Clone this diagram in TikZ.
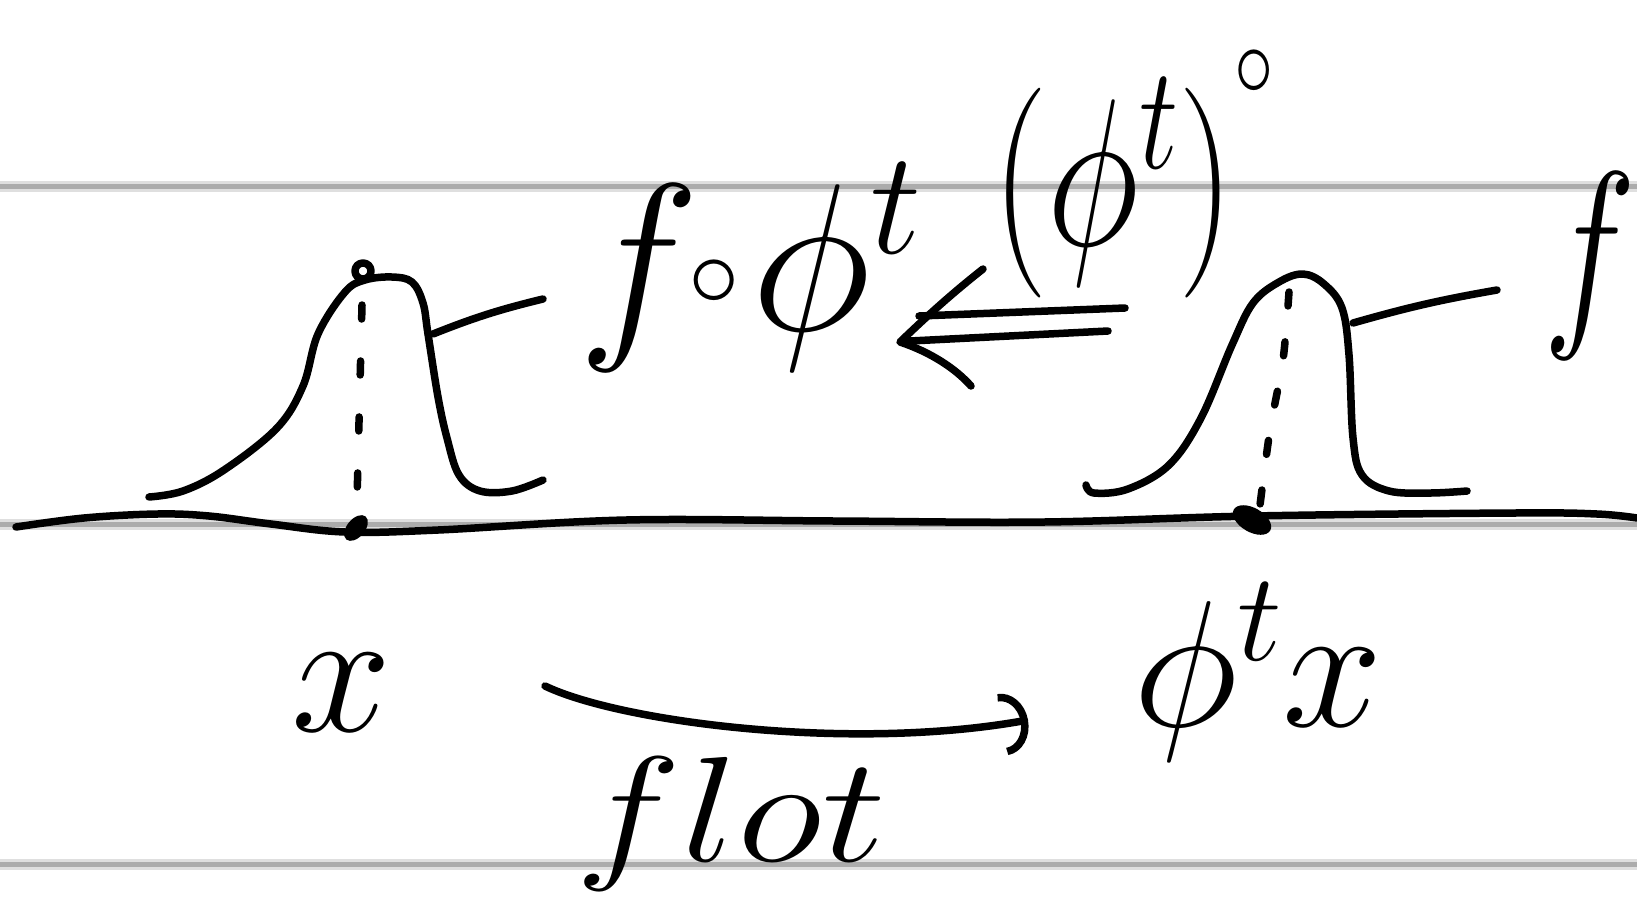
\documentclass[tikz,border=0pt]{standalone}
\usepackage{fix-cm}
\usepackage{graphicx}
\usetikzlibrary{arrows.meta}
\begin{document}
\begin{tikzpicture}[x=1pt,y=-1pt,
  ink/.style={line width=7.5pt, line cap=round, line join=round, black},
  rule/.style={line width=5pt, gray!65},
  ruleglow/.style={line width=11pt, gray!25},
  big/.style={inner sep=0pt, anchor=base, font=\fontsize{210}{250}\selectfont},
  mid/.style={inner sep=0pt, anchor=base, font=\fontsize{180}{216}\selectfont},
  small/.style={inner sep=0pt, anchor=base, font=\fontsize{150}{180}\selectfont},
  dots/.style={ink, dash pattern=on 14pt off 42pt}]
\useasboundingbox (0,0) rectangle (1637,911);
\fill[white] (0,0) rectangle (1637,911);

% ruled notebook lines
\foreach \y in {186,524,864} {
  \draw[ruleglow] (0,\y) -- (1637,\y);
  \draw[rule] (0,\y) -- (1637,\y);
}

% the real line (state space)
\draw[ink] plot[smooth, tension=0.6] coordinates {(16,527) (84,518) (157,514) (209,516) (271,524) (345,532) (438,530) (626,520) (835,521) (1044,522) (1253,516) (1514,513) (1597,514) (1637,518)};

% left bump: graph of f o phi^t
\draw[ink] plot[smooth, tension=0.6] coordinates {(149,497) (183,491) (224,470) (277,428) (303,386) (318,334) (345,292) (365,280) (392,277) (412,282) (423,303) (428,334) (438,397) (447,438) (459,475) (480,491) (512,491) (543,480)};
\draw[ink] (363,271) circle (8pt);
\draw[dots] (362,305) -- (357,500);
\fill[rotate around={50:(356,528)}] (356,528) ellipse (15pt and 9pt);

% right bump: graph of f
\draw[ink] plot[smooth, tension=0.6] coordinates {(1086,485) (1094,493) (1128,489) (1169,465) (1201,418) (1232,345) (1253,303) (1279,282) (1303,274) (1324,284) (1342,308) (1349,355) (1353,438) (1362,475) (1389,491) (1430,493) (1467,491)};
\draw[dots, dash pattern=on 14pt off 36pt] plot[smooth] coordinates {(1289,292) (1283,360) (1270,430) (1260,505)};
\fill[rotate around={-30:(1252,520)}] (1252,520) ellipse (21pt and 12pt);

% labels
\node[big] (fphi) at (750,330) {\scalebox{0.98}[1]{$f\mkern-1mu\raisebox{24pt}{$\scriptscriptstyle\circ$}\mkern1mu\phi^t$}};
\node[big] (pull) at (1133,245) {\scalebox{0.75}[1]{$(\phi^t)^{\smash{\raisebox{72pt}{$\scriptscriptstyle\circ$}}}$}};
\node[big] (f) at (1590,318) {\scalebox{0.75}[1]{$f$}};
\node[mid] (x) at (342,731) {$x$};
\node[mid] (phix) at (1258,726) {$\phi^t x$};
\node[small] (flot) at (731,861) {\scalebox{1.2}[1]{$flot$}};

% leader lines from the bumps to their names
\coordinate (lbump) at (433,334);
\coordinate (lname) at (543,299);
\coordinate (rbump) at (1353,323);
\coordinate (rname) at (1497,290);
\draw[ink] (lbump) to[bend left=4] (lname);
\draw[ink] (rbump) to[bend left=3] (rname);

% pull-back double arrow
\coordinate (dtip) at (900,342);
\coordinate (dtop) at (1125,308);
\coordinate (dbot) at (1108,331);
\draw[ink] (919,316) -- (dtop);
\draw[ink] (910,341) -- (dbot);
\draw[ink] (983,269) .. controls (950,295) and (925,318) .. (dtip) .. controls (930,352) and (955,368) .. (971,386);

% flow arrow from x to phi^t x
\coordinate (fs) at (545,686);
\coordinate (fe) at (1028,720);
\draw[ink, -{Arc Barb[length=26pt,width=62pt]}] (fs) .. controls (620,722) and (850,752) .. (fe);
\end{tikzpicture}
\end{document}
